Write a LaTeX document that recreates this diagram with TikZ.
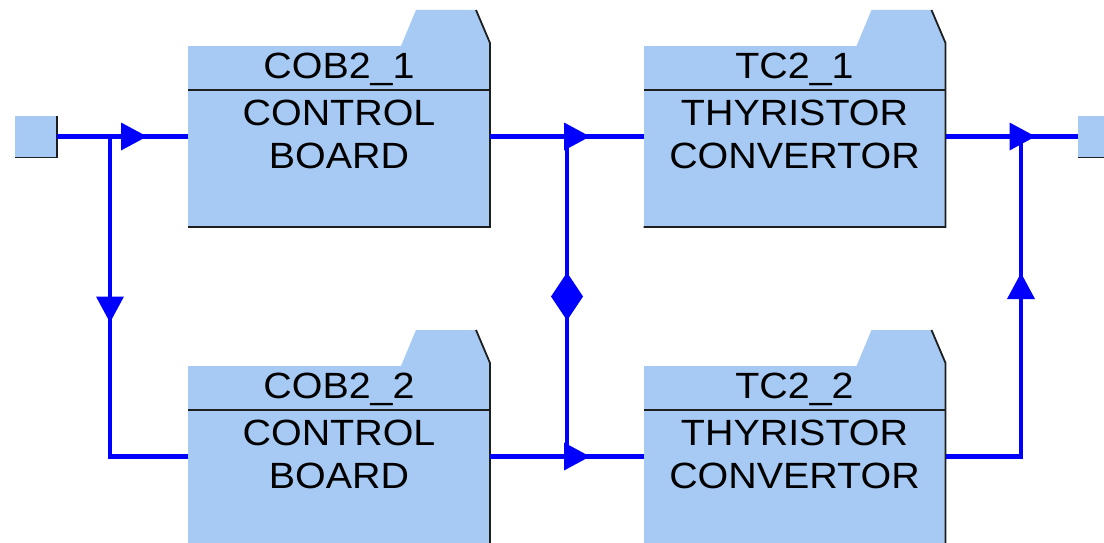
\documentclass[tikz,border=0pt]{standalone}
\usepackage{fontspec}
\setmainfont{Liberation Sans}
\usetikzlibrary{calc,decorations.markings}
\definecolor{boxblue}{RGB}{166,202,244}
\definecolor{linecol}{RGB}{0,0,255}
\definecolor{edgecol}{RGB}{30,30,30}
\tikzset{
  body/.style={fill=boxblue, draw=none, minimum width=302pt, minimum height=181pt, inner sep=0pt, outer sep=0pt},
  port/.style={fill=boxblue, draw=none, minimum width=42pt, minimum height=42pt, inner sep=0pt, outer sep=0pt},
  outl/.style={draw=edgecol, line width=1.8pt},
  txt/.style={anchor=base, inner sep=0pt, font=\fontsize{36.5}{43}\selectfont},
  conn/.style={draw=linecol, line width=4.5pt},
  triat/.style={postaction={decorate, decoration={markings, mark=at position #1 with {\fill[linecol] (0,0) -- (-26,-14) -- (-26,14) -- cycle;}}}},
  diamat/.style={postaction={decorate, decoration={markings, mark=at position #1 with {\fill[linecol] (-24,0) -- (0,16) -- (24,0) -- (0,-16) -- cycle;}}}}
}
\newcommand\wtext[1]{\scalebox{1.08}[1]{#1}}
\newcommand\folderbox[6]{%
  \node[body] (#1) at (#2,#3) {};
  \fill[boxblue] ($(#1.north west)+(213,0)$) -- ++(15,-36) -- ++(60,0) -- ++(14,33) -- (#1.north east) -- cycle;
  \draw[outl] ($(#1.north east)+(-14,-36)$) -- ($(#1.north east)+(0,-3)$) -- (#1.south east) -- (#1.south west);
  \draw[outl] ($(#1.north west)+(0,44)$) -- ($(#1.north east)+(0,44)$);
  \node[txt] (#1t) at ($(#1.north)+(0,32)$) {\wtext{#4}};
  \node[txt] (#1a) at ($(#1.north)+(0,79)$) {\wtext{#5}};
  \node[txt] (#1b) at ($(#1.north)+(0,122)$) {\wtext{#6}};
}
\begin{document}
\begin{tikzpicture}[x=1pt,y=-1pt]
\useasboundingbox (0,0) rectangle (1104,543);
\clip (0,0) rectangle (1104,543);
\fill[white] (0,0) rectangle (1104,543);
% ports
\node[port] (in) at (36,136.5) {};
\draw[outl] (in.north east) -- (in.south east) -- (in.south west);
\node[port] (out) at (1099,136.5) {};
\draw[outl] (out.south west) -- (out.south east);
% boxes
\folderbox{cob1}{339}{136.5}{COB2\_1}{CONTROL}{BOARD}
\folderbox{cob2}{339}{456.5}{COB2\_2}{CONTROL}{BOARD}
\folderbox{tc1}{794.5}{136.5}{TC2\_1}{THYRISTOR}{CONVERTOR}
\folderbox{tc2}{794.5}{456.5}{TC2\_2}{THYRISTOR}{CONVERTOR}
% junctions
\coordinate (j1) at (110,136.5);
\coordinate (j2) at (567,136.5);
\coordinate (j3) at (567,456.5);
\coordinate (j4) at (1021,456.5);
\coordinate (j5) at (1021,136.5);
% connectors
\draw[conn, triat=90pt] (in.east) -- (cob1.west);
\draw[conn, triat=186pt] (j1) -- (j1 |- cob2.west) -- (cob2.west);
\draw[conn, triat=100pt] (cob1.east) -- (tc1.west);
\draw[conn, triat=100pt] (cob2.east) -- (tc2.west);
\draw[conn, diamat=160pt] (j2) -- (j3);
\draw[conn, triat=90pt] (tc1.east) -- (out.west);
\draw[conn, triat=259pt] (tc2.east) -- (j4) -- (j5);
\end{tikzpicture}
\end{document}
